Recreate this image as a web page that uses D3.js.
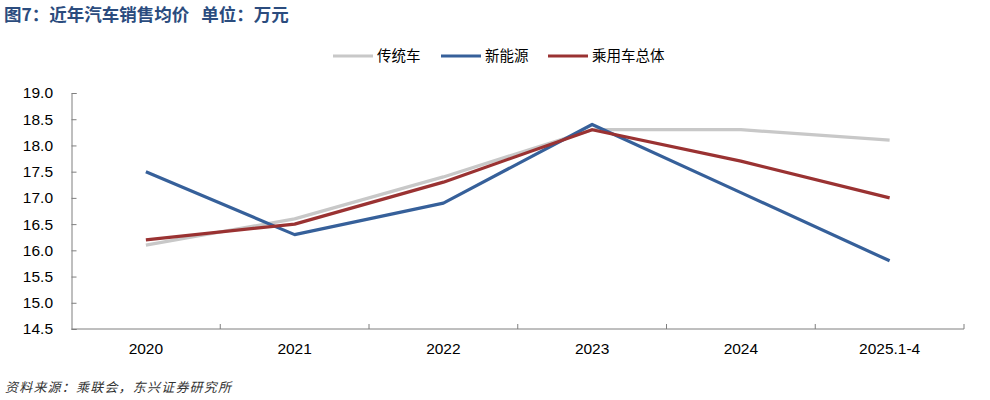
<!DOCTYPE html>
<html>
<head>
<meta charset="utf-8">
<script src="https://cdn.jsdelivr.net/npm/d3@7"></script>
<style>
  body { margin: 0; background: #fff; }
  text { font-family: "Liberation Sans", Arial, "Noto Sans CJK SC", sans-serif; }
</style>
</head>
<body>
<svg id="chart" width="990" height="400"></svg>
<script>
// chart data
const categories = ["2020", "2021", "2022", "2023", "2024", "2025.1-4"];
const seriesNames = ["传统车", "新能源", "乘用车总体"];
const traditional = [16.1, 16.6, 17.4, 18.3, 18.3, 18.1];
const newEnergy = [17.5, 16.3, 16.9, 18.4, 17.1, 15.8];
const overall = [16.2, 16.5, 17.3, 18.3, 17.7, 17.0];
const yTicks = [14.5, 15.0, 15.5, 16.0, 16.5, 17.0, 17.5, 18.0, 18.5, 19.0];

const colors = ["#c8c8c8", "#36609a", "#9a3232"];
const margin = {top: 93, bottom: 71, left: 71.5, right: 26};
const width = 990 - margin.left - margin.right;
const height = 400 - margin.top - margin.bottom;

const svg = d3.select("#chart");

svg.append("text")
  .attr("x", 4)
  .attr("y", 21)
  .attr("fill", "#2b4c7e")
  .attr("font-weight", "bold")
  .attr("font-size", 17.5)
  .style("font-family", "'Noto Sans CJK SC', sans-serif")
  .text("图7：近年汽车销售均价\u00a0\u00a0\u00a0单位：万元");

const g = svg.append("g").attr("transform", `translate(${margin.left},${margin.top})`);

const x = d3.scaleBand().domain(categories).range([0, width]);
const y = d3.scaleLinear().domain([14.5, 19.0]).range([height, 0]);

// y axis
const yAxis = g.append("g")
  .call(d3.axisLeft(y).tickValues(yTicks).tickSize(-5).tickFormat(d3.format(".1f")).tickPadding(18.5));
yAxis.select(".domain").attr("stroke", "#7f7f7f");
yAxis.selectAll(".tick line").attr("stroke", "#7f7f7f");
yAxis.selectAll("text").attr("font-size", 15.5).attr("fill", "#000");

// x axis with ticks at band boundaries
const xAxis = g.append("g").attr("transform", `translate(0,${height})`);
xAxis.append("line")
  .attr("x1", 0).attr("x2", width)
  .attr("stroke", "#7f7f7f");
xAxis.selectAll(".bt")
  .data(categories)
  .enter().append("line")
  .attr("x1", d => x(d) + x.bandwidth())
  .attr("x2", d => x(d) + x.bandwidth())
  .attr("y1", 0).attr("y2", -5)
  .attr("stroke", "#7f7f7f");
xAxis.selectAll(".lbl")
  .data(categories)
  .enter().append("text")
  .attr("x", d => x(d) + x.bandwidth() / 2)
  .attr("y", 25)
  .attr("text-anchor", "middle")
  .attr("font-size", 15.5)
  .text(d => d);

// lines
const line = d3.line()
  .x((d, i) => x(categories[i]) + x.bandwidth() / 2)
  .y(d => y(d));

[traditional, newEnergy, overall].forEach((s, i) => {
  g.append("path")
    .datum(s)
    .attr("fill", "none")
    .attr("stroke", colors[i])
    .attr("stroke-width", 3.2)
    .attr("stroke-linejoin", "round")
    .attr("d", line);
});

// legend
const legendX = [333, 441, 548];
const legend = svg.append("g");
seriesNames.forEach((name, i) => {
  legend.append("line")
    .attr("x1", legendX[i]).attr("x2", legendX[i] + 40)
    .attr("y1", 56).attr("y2", 56)
    .attr("stroke", colors[i])
    .attr("stroke-width", 3.2);
  legend.append("text")
    .attr("x", legendX[i] + 44)
    .attr("y", 61)
    .attr("font-size", 14.5)
    .style("font-family", "'Noto Sans CJK SC', sans-serif")
    .text(name);
});

// source
svg.append("text")
  .attr("x", 5)
  .attr("y", 392)
  .attr("font-size", 13)
  .attr("letter-spacing", 1.2)
  .attr("font-style", "italic")
  .attr("fill", "#333")
  .style("font-family", "'Noto Sans CJK SC', sans-serif")
  .text("资料来源：乘联会，东兴证券研究所");
</script>
</body>
</html>
